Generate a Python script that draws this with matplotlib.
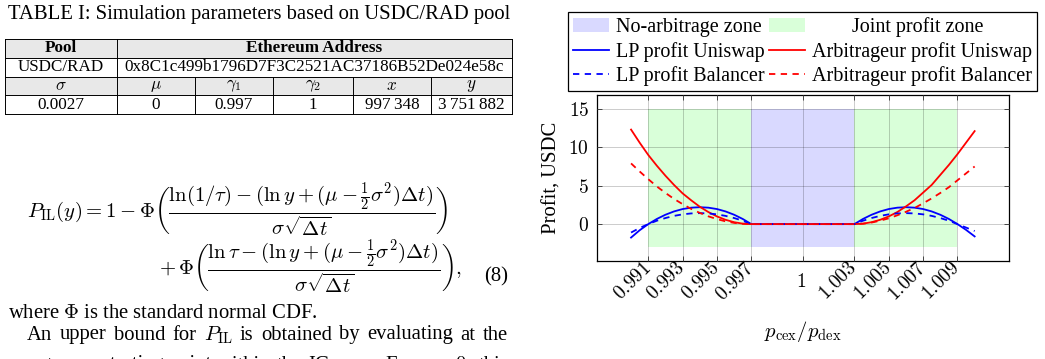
import matplotlib
matplotlib.use("Agg")
import matplotlib.pyplot as plt
from matplotlib.patches import Rectangle, Patch
from matplotlib.lines import Line2D
from matplotlib.transforms import ScaledTranslation

plt.rcParams['font.family'] = ['Liberation Serif', 'DejaVu Serif']
plt.rcParams['mathtext.fontset'] = 'cm'

# --- Daten der Abbildung ---
x_left = [0.9900, 0.9905, 0.9910, 0.9915, 0.9920, 0.9925, 0.9930, 0.9935,
          0.9940, 0.9945, 0.9950, 0.9955, 0.9960, 0.9965, 0.9970]
x_mid = [1.0000]
x_right = [1.0030, 1.0035, 1.0040, 1.0045, 1.0050, 1.0055, 1.0060, 1.0065,
           1.0070, 1.0075, 1.0080, 1.0085, 1.0090, 1.0095, 1.0100]
x_vals = x_left + x_mid + x_right

lp_uni = [-1.75, -0.80, 0.00, 0.67, 1.22, 1.65, 1.96, 2.14, 2.20, 2.14, 1.96, 1.65, 1.22, 0.67, 0.00,
          0.00,
          0.00, 0.67, 1.22, 1.65, 1.96, 2.14, 2.20, 2.14, 1.96, 1.65, 1.22, 0.67, 0.00, -0.75, -1.60]
lp_bal = [-1.10, -0.50, 0.00, 0.44, 0.79, 1.07, 1.27, 1.39, 1.43, 1.39, 1.27, 1.07, 0.79, 0.44, 0.00,
          0.00,
          0.00, 0.44, 0.79, 1.07, 1.27, 1.39, 1.43, 1.39, 1.27, 1.07, 0.79, 0.44, 0.00, -0.45, -0.90]
arb_uni = [12.3, 10.6, 9.0, 7.6, 6.3, 5.1, 4.0, 3.1, 2.26, 1.57, 1.0, 0.56, 0.25, 0.06, 0.0,
           0.0,
           0.0, 0.06, 0.25, 0.56, 1.0, 1.57, 2.3, 3.1, 4.1, 5.1, 6.4, 7.7, 9.1, 10.6, 12.1]
arb_bal = [7.9, 6.85, 5.85, 4.9, 4.06, 3.28, 2.6, 1.98, 1.46, 1.01, 0.65, 0.36, 0.16, 0.04, 0.0,
           0.0,
           0.0, 0.05, 0.2, 0.45, 0.75, 1.15, 1.6, 2.1, 2.7, 3.35, 4.05, 4.8, 5.7, 6.6, 7.5]

no_arb_zone = (0.997, 1.003)
joint_zone = (0.991, 1.009)
zone_y = (-3, 15)

xticks = [0.991, 0.993, 0.995, 0.997, 1.0, 1.003, 1.005, 1.007, 1.009]
xtick_labels = ['0.991', '0.993', '0.995', '0.997', '1', '1.003', '1.005', '1.007', '1.009']
yticks = [0, 5, 10, 15]

# Tabelle
table_title = 'TABLE I: Simulation parameters based on USDC/RAD pool'
tab_head1 = ['Pool', 'Ethereum Address']
tab_row1 = ['USDC/RAD', '0x8C1c499b1796D7F3C2521AC37186B52De024e58c']
tab_head2 = [r'$\sigma$', r'$\mu$', r'$\gamma_1$', r'$\gamma_2$', r'$x$', r'$y$']
tab_row2 = ['0.0027', '0', '0.997', '1', '997\u2009348', '3\u2009751\u2009882']

W, H = 1045, 359
fig = plt.figure(figsize=(W / 100, H / 100), dpi=100)

# Seite (Pixelkoordinaten)
page = fig.add_axes([0, 0, 1, 1])
page.set_xlim(0, W)
page.set_ylim(H, 0)
page.axis('off')

fs = 14.9
page.text(8, 15, table_title, fontsize=fs, va='center', ha='left')

cols = [5, 117, 195, 273, 353, 431, 512]
rows = [39, 57.75, 76.5, 95.25, 114]
gray = '#e8e8e8'
page.add_patch(Rectangle((cols[0], rows[0]), cols[-1] - cols[0], rows[1] - rows[0], fc=gray, ec='none'))
page.add_patch(Rectangle((cols[0], rows[2]), cols[-1] - cols[0], rows[3] - rows[2], fc=gray, ec='none'))
for r in rows:
    page.plot([cols[0], cols[-1]], [r, r], color='black', lw=0.7)
for c in [cols[0], cols[1], cols[-1]]:
    page.plot([c, c], [rows[0], rows[4]], color='black', lw=0.7)
for c in cols[2:-1]:
    page.plot([c, c], [rows[2], rows[4]], color='black', lw=0.7)

tfs = 12.3
page.text((cols[0] + cols[1]) / 2, (rows[0] + rows[1]) / 2, tab_head1[0], fontsize=tfs, weight='bold', ha='center', va='center')
page.text((cols[1] + cols[-1]) / 2, (rows[0] + rows[1]) / 2, tab_head1[1], fontsize=tfs, weight='bold', ha='center', va='center')
page.text((cols[0] + cols[1]) / 2, (rows[1] + rows[2]) / 2, tab_row1[0], fontsize=tfs, ha='center', va='center')
page.text((cols[1] + cols[-1]) / 2, (rows[1] + rows[2]) / 2, tab_row1[1], fontsize=tfs, ha='center', va='center')
for i in range(6):
    cx = (cols[i] + cols[i + 1]) / 2
    page.text(cx, (rows[2] + rows[3]) / 2, tab_head2[i], fontsize=tfs, ha='center', va='center')
    page.text(cx, (rows[3] + rows[4]) / 2, tab_row2[i], fontsize=tfs, ha='center', va='center')

# Gleichung (8)
eq1 = r'$P_{\mathrm{IL}}(y) = 1 - \Phi\left(\dfrac{\ln(1/\tau) - (\ln y + (\mu - \frac{1}{2}\sigma^2)\Delta t)}{\sigma\sqrt{\Delta t}}\right)$'
eq2 = r'$+\,\Phi\left(\dfrac{\ln\tau - (\ln y + (\mu - \frac{1}{2}\sigma^2)\Delta t)}{\sigma\sqrt{\Delta t}}\right),$'
page.text(27, 218, eq1, fontsize=fs, ha='left', va='baseline')
page.text(462, 275, eq2, fontsize=fs, ha='right', va='baseline')
page.text(508, 277, '(8)', fontsize=fs, ha='right', va='center')
page.text(8, 313, r'where $\Phi$ is the standard normal CDF.', fontsize=fs, ha='left', va='center')


def justify(words, x0, x1, y):
    # Woerter einzeln setzen und auf Blocksatz verteilen
    texts = [page.text(0, y, w, fontsize=fs, ha='left', va='center') for w in words]
    r = fig.canvas.get_renderer()
    widths = [t.get_window_extent(r).width for t in texts]
    gap = (x1 - x0 - sum(widths)) / (len(words) - 1)
    x = x0
    for t, wd in zip(texts, widths):
        t.set_x(x)
        x += wd + gap


justify(['An', 'upper', 'bound', 'for', r'$P_{\mathrm{IL}}$', 'is', 'obtained', 'by',
         'evaluating', 'at', 'the'], 27, 508, 335)
justify(['worst-case', 'starting', 'point', 'within', 'the', 'IG', 'zone.', 'For',
         r'$\mu = 0$,', 'this'], 8, 508, 365)

# Diagramm
L, R, T, B = 596.7, 1009, 95, 261
ax = fig.add_axes([L / W, 1 - B / H, (R - L) / W, (B - T) / H])
ax.set_xlim(0.988, 1.012)
ax.set_ylim(-4.8, 16.8)

ax.fill_between(list(joint_zone), zone_y[0], zone_y[1], color='#d9ffd9', lw=0, zorder=0)
ax.fill_between(list(no_arb_zone), zone_y[0], zone_y[1], color='#d9d9ff', lw=0, zorder=0.5)

ax.set_xticks(xticks)
ax.set_xticklabels(['$' + s + '$' for s in xtick_labels], fontsize=14)
ax.set_yticks(yticks)
ax.set_yticklabels(['$%d$' % v for v in yticks], fontsize=14)
ax.grid(True, color='black', alpha=0.2, lw=0.7, zorder=1)
ax.set_axisbelow(False)
ax.tick_params(direction='in', top=True, right=True, length=3.5, width=0.7, color='#444444')
ax.tick_params(axis='y', pad=5.5)
ax.tick_params(axis='x', pad=3)
for lbl in ax.get_xticklabels():
    lbl.set_rotation(45)
    lbl.set_rotation_mode('anchor')
    lbl.set_ha('right')
    lbl.set_va('center')
    if lbl.get_text() == '$1$':
        lbl.set_rotation(0)
        lbl.set_ha('center')
        lbl.set_transform(lbl.get_transform() + ScaledTranslation(-0.02, -0.17, fig.dpi_scale_trans))

dash = (0, (3.5, 3))
ax.plot(x_vals, lp_uni, color='#0000ff', lw=1.3, zorder=3)
ax.plot(x_vals, arb_uni, color='#ff0000', lw=1.3, zorder=3)
ax.plot(x_vals, lp_bal, color='#0000ff', lw=1.3, ls=dash, zorder=3)
ax.plot(x_vals, arb_bal, color='#ff0000', lw=1.3, ls=dash, zorder=3)

for s in ax.spines.values():
    s.set_linewidth(0.9)

ax.set_ylabel('Profit, USDC', fontsize=fs)
ax.yaxis.set_label_coords(-0.085, 0.5)
ax.set_xlabel(r'$p_{\mathrm{cex}}/p_{\mathrm{dex}}$', fontsize=fs)
ax.xaxis.set_label_coords(0.5, -0.35)
ax.xaxis.label.set_va('top')

handles = [Patch(fc='#d9d9ff', ec='none'),
           Line2D([], [], color='#0000ff', lw=1.3),
           Line2D([], [], color='#0000ff', lw=1.3, ls=dash),
           Patch(fc='#d9ffd9', ec='none'),
           Line2D([], [], color='#ff0000', lw=1.3),
           Line2D([], [], color='#ff0000', lw=1.3, ls=dash)]
labels = ['No-arbitrage zone', 'LP profit Uniswap', 'LP profit Balancer',
          '        Joint profit zone', 'Arbitrageur profit Uniswap', 'Arbitrageur profit Balancer']
leg = ax.legend(handles, labels, ncol=2, loc='lower center', bbox_to_anchor=(802.5 / W, 1 - 91 / H),
                bbox_transform=fig.transFigure, fontsize=14.5, frameon=True, fancybox=False,
                edgecolor='black', framealpha=1, borderaxespad=0, handlelength=1.75,
                handletextpad=0.35, columnspacing=0.25, labelspacing=0.22, borderpad=0.25)
leg.get_frame().set_linewidth(0.9)

fig.savefig('out.png', dpi=100)
